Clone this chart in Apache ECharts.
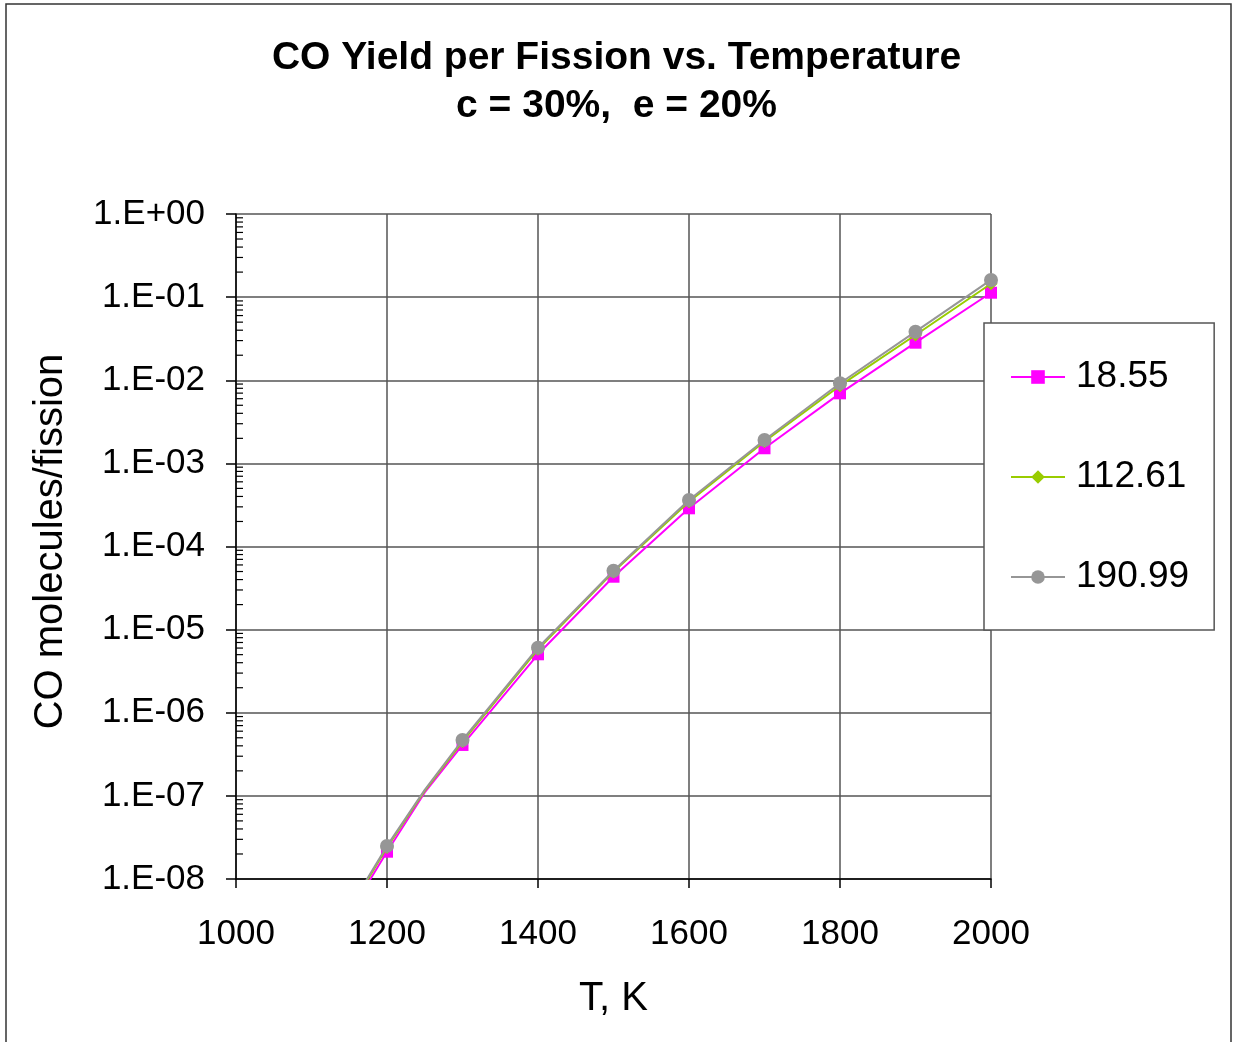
<!DOCTYPE html>
<html>
<head>
<meta charset="utf-8">
<script src="https://cdn.jsdelivr.net/npm/echarts@6/dist/echarts.min.js"></script>
<style>
html,body{margin:0;padding:0;background:#fff;}
#chart{width:1233px;height:1042px;}
</style>
</head>
<body>
<div id="chart"></div>
<script>
// ---- data ----
const temps = [1150, 1200, 1250, 1300, 1400, 1500, 1600, 1700, 1800, 1900, 2000];
const seriesNames = ['18.55', '112.61', '190.99'];
const yield_18_55  = [3.8e-9, 2.13e-8, 1.10e-7, 4.1e-7, 5.05e-6, 4.33e-5, 2.88e-4, 1.52e-3, 6.96e-3, 2.83e-2, 0.113];
const yield_112_61 = [4.2e-9, 2.40e-8, 1.15e-7, 4.5e-7, 5.80e-6, 4.95e-5, 3.45e-4, 1.83e-3, 8.60e-3, 3.50e-2, 0.145];
const yield_190_99 = [4.4e-9, 2.50e-8, 1.18e-7, 4.7e-7, 6.06e-6, 5.10e-5, 3.62e-4, 1.91e-3, 9.20e-3, 3.84e-2, 0.161];
const markerTemps = [1200, 1300, 1400, 1500, 1600, 1700, 1800, 1900, 2000];
const yTickLabels = ['1.E-08','1.E-07','1.E-06','1.E-05','1.E-04','1.E-03','1.E-02','1.E-01','1.E+00'];
const xTicks = [1000, 1200, 1400, 1600, 1800, 2000];
const minorMultipliers = [2, 3, 4, 5, 6, 7, 8, 9];
const decades = [-8, -7, -6, -5, -4, -3, -2, -1];

const FONT = "'Liberation Sans', Arial, sans-serif";
const chart = echarts.init(document.getElementById('chart'), null, {renderer: 'canvas'});

function buildData(vals, sym) {
  return temps.map((t, i) => ({
    value: [t, vals[i]],
    symbol: markerTemps.indexOf(t) >= 0 ? sym : 'none'
  }));
}

const minorTickVals = [];
decades.forEach(d => minorMultipliers.forEach(m => minorTickVals.push([xTicks[0], m * Math.pow(10, d)])));

const styles = [
  {color: '#ff00ff', symbol: 'rect', size: 12},
  {color: '#99cc00', symbol: 'diamond', size: 13},
  {color: '#969696', symbol: 'circle', size: 14}
];
const allVals = [yield_18_55, yield_112_61, yield_190_99];

const lineSeries = seriesNames.map((n, k) => ({
  name: n,
  type: 'line',
  data: buildData(allVals[k], styles[k].symbol),
  symbol: styles[k].symbol,
  symbolSize: styles[k].size,
  showAllSymbol: true,
  lineStyle: {color: styles[k].color, width: 2},
  itemStyle: {color: styles[k].color},
  clip: true,
  z: 3 + k,
  animation: false
}));

const minorTickSeries = {
  type: 'custom',
  name: 'minorTicks',
  data: minorTickVals,
  silent: true,
  clip: false,
  z: 2,
  renderItem: function (params, api) {
    const p = api.coord([api.value(0), api.value(1)]);
    return {
      type: 'line',
      shape: {x1: p[0], y1: p[1], x2: p[0] + 7, y2: p[1]},
      style: {stroke: '#000', lineWidth: 1.2}
    };
  },
  animation: false
};

const option = {
  backgroundColor: '#fff',
  animation: false,
  title: {
    text: 'CO Yield per Fission vs. Temperature\nc = 30%,  e = 20%',
    left: 'center',
    top: 29,
    textStyle: {fontFamily: FONT, fontSize: 39, fontWeight: 'bold', color: '#000', lineHeight: 48}
  },
  graphic: [{
    id: 'border',
    type: 'rect',
    shape: {x: 6, y: 4, width: 1225, height: 1050},
    style: {fill: 'none', stroke: '#333', lineWidth: 1.5},
    z: 0, silent: true
  }],
  legend: {
    data: seriesNames,
    orient: 'vertical',
    left: 984,
    top: 323,
    padding: [34, 25, 33, 26],
    itemGap: 60,
    itemWidth: 54,
    itemHeight: 17,
    backgroundColor: '#fff',
    borderColor: '#555',
    borderWidth: 1.5,
    textStyle: {fontFamily: FONT, fontSize: 37, color: '#000', lineHeight: 40, padding: [0, 0, 0, 6]}
  },
  grid: {left: 236, right: 242, top: 214, bottom: 163, containLabel: false, outerBoundsMode: 'none'},
  xAxis: {
    type: 'value',
    min: 1000, max: 2000, interval: 200,
    name: 'T, K',
    nameLocation: 'middle',
    nameGap: 100,
    nameTextStyle: {fontFamily: FONT, fontSize: 40, color: '#000'},
    axisLine: {show: true, lineStyle: {color: '#000', width: 1.5}},
    axisTick: {show: true, length: 9, inside: false, lineStyle: {color: '#000', width: 1.5}},
    axisLabel: {fontFamily: FONT, fontSize: 35, color: '#000', margin: 38,
      formatter: v => String(xTicks[xTicks.indexOf(v)])},
    splitLine: {show: true, lineStyle: {color: '#555', width: 1.5}}
  },
  yAxis: {
    type: 'log',
    logBase: 10,
    min: 1e-8, max: 1,
    name: 'CO molecules/fission',
    nameLocation: 'middle',
    nameGap: 165,
    nameRotate: 90,
    nameTextStyle: {fontFamily: FONT, fontSize: 40, color: '#000', padding: [0, 0, 0, 10]},
    axisLine: {show: true, lineStyle: {color: '#000', width: 1.5}},
    axisTick: {show: true, length: 10, inside: false, lineStyle: {color: '#000', width: 1.5}},
    axisLabel: {fontFamily: FONT, fontSize: 35, color: '#000', margin: 31,
      formatter: v => yTickLabels[Math.round(Math.log10(v)) + 8]},
    splitLine: {show: true, lineStyle: {color: '#555', width: 1.5}}
  },
  series: [minorTickSeries].concat(lineSeries)
};
chart.setOption(option);
</script>
</body>
</html>
